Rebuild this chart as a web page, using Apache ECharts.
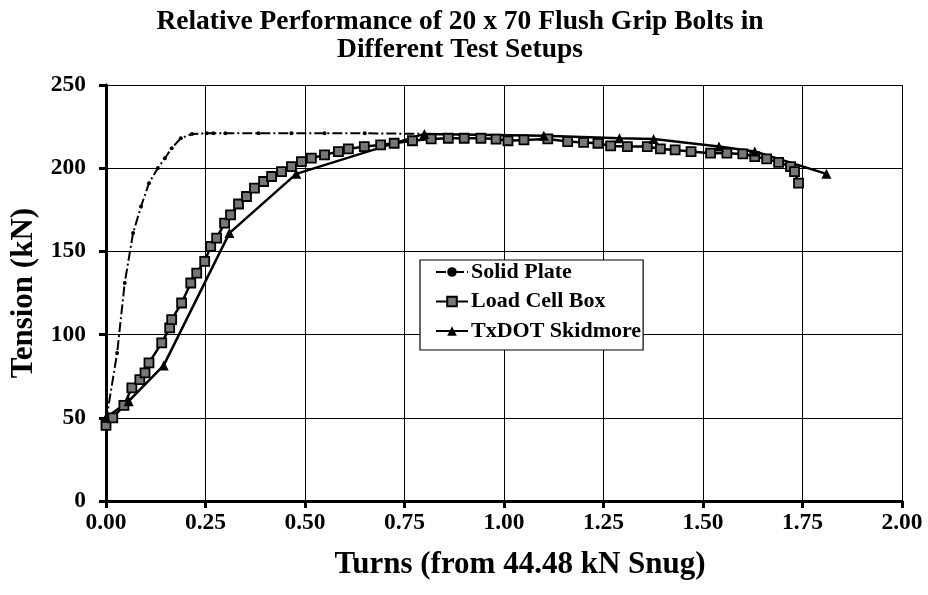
<!DOCTYPE html>
<html>
<head>
<meta charset="utf-8">
<script src="https://cdn.jsdelivr.net/npm/echarts@6/dist/echarts.min.js"></script>
<style>html,body{margin:0;padding:0;background:#fff}#c{width:928px;height:595px}</style>
</head>
<body>
<div id="c"></div>
<script>
const titleLines = ['Relative Performance of 20 x 70 Flush Grip Bolts in', 'Different Test Setups'];
const xTicks = [0, 0.25, 0.5, 0.75, 1.0, 1.25, 1.5, 1.75, 2.0];
const yTicks = [0, 50, 100, 150, 200, 250];
const seriesNames = ['Solid Plate', 'Load Cell Box', 'TxDOT Skidmore'];

const solidPlate = [
  [0, 48], [0.028, 89], [0.047, 131], [0.068, 161], [0.088, 177], [0.108, 191],
  [0.13, 200], [0.148, 206], [0.165, 212], [0.188, 218], [0.216, 220.6], [0.253, 221],
  [0.27, 221], [0.3, 221], [0.383, 221], [0.466, 221], [0.549, 221], [0.65, 221], [0.8, 220.6]
];
const loadCellBox = [
  [0, 45.5], [0.017, 50], [0.045, 57.5], [0.065, 68], [0.085, 73], [0.098, 77], [0.108, 83],
  [0.14, 95], [0.16, 104], [0.165, 109], [0.19, 119], [0.213, 131], [0.228, 137], [0.248, 144],
  [0.263, 153], [0.278, 158], [0.298, 167], [0.313, 172], [0.333, 178.5], [0.353, 183],
  [0.373, 188], [0.396, 192], [0.416, 195], [0.441, 198], [0.466, 201], [0.491, 204],
  [0.516, 206], [0.549, 208], [0.584, 210], [0.609, 211.6], [0.649, 213], [0.69, 214],
  [0.724, 215], [0.77, 216.5], [0.817, 217.6], [0.86, 218], [0.9, 218], [0.942, 218],
  [0.98, 217.5], [1.01, 216.5], [1.05, 217], [1.11, 217.6], [1.16, 216], [1.2, 215.5],
  [1.236, 215], [1.268, 213.4], [1.31, 213], [1.36, 213], [1.393, 211.6], [1.43, 211],
  [1.47, 210], [1.519, 209], [1.56, 209], [1.6, 208.6], [1.63, 207], [1.66, 205.6],
  [1.69, 203.5], [1.72, 201], [1.73, 198], [1.74, 191]
];
const txdotSkidmore = [
  [0, 50], [0.057, 60], [0.145, 81.5], [0.31, 161], [0.478, 196.6], [0.8, 220.6],
  [1.1, 219.5], [1.29, 218], [1.376, 217.6], [1.54, 213], [1.63, 210], [1.81, 196.6]
];

const FONT = '"Liberation Serif", "Times New Roman", serif';
const chart = echarts.init(document.getElementById('c'), null, {renderer: 'canvas'});
chart.setOption({
  animation: false,
  backgroundColor: '#fff',
  title: {
    text: titleLines.join('\n'),
    left: 455, top: 3, textAlign: 'center',
    textStyle: {fontFamily: FONT, fontWeight: 'bold', fontSize: 27.5, color: '#000', lineHeight: 28}
  },
  legend: {
    orient: 'vertical', left: 420, top: 260,
    data: seriesNames,
    backgroundColor: '#fff', borderColor: '#000', borderWidth: 1.2,
    padding: [1, 2, 8, 15], itemGap: 7.5, itemWidth: 32, itemHeight: 12,
    textStyle: {fontFamily: FONT, fontWeight: 'bold', fontSize: 22, color: '#000', padding: [0, 0, 0, -2]}
  },
  grid: {left: 104, right: 26, top: 85, bottom: 94},
  xAxis: {
    type: 'value', min: 0, max: 2, interval: 0.25,
    name: 'Turns (from 44.48 kN Snug)', nameLocation: 'middle', nameGap: 48,
    nameTextStyle: {fontFamily: FONT, fontWeight: 'bold', fontSize: 31, color: '#000', padding: [0, 0, 0, 32]},
    axisLine: {lineStyle: {color: '#000', width: 3}},
    axisTick: {length: 7, lineStyle: {color: '#000', width: 3}},
    axisLabel: {fontFamily: FONT, fontWeight: 'bold', fontSize: 23.5, color: '#000', margin: 10,
      formatter: v => v.toFixed(2)},
    splitLine: {show: true, lineStyle: {color: '#000', width: 1}}
  },
  yAxis: {
    type: 'value', min: 0, max: 250, interval: 50,
    name: 'Tension (kN)', nameLocation: 'middle', nameGap: 67,
    nameTextStyle: {fontFamily: FONT, fontWeight: 'bold', fontSize: 31, color: '#000'},
    axisLine: {lineStyle: {color: '#000', width: 3}},
    axisTick: {length: 7, lineStyle: {color: '#000', width: 3}},
    axisLabel: {fontFamily: FONT, fontWeight: 'bold', fontSize: 23.5, color: '#000', margin: 20},
    splitLine: {show: true, lineStyle: {color: '#000', width: 1}}
  },
  series: [
    {
      name: seriesNames[0], type: 'line', data: solidPlate,
      symbol: 'circle', symbolSize: 4, showSymbol: true,
      itemStyle: {color: '#000'},
      lineStyle: {color: '#000', width: 2, type: [10, 3, 2, 3]}
    },
    {
      name: seriesNames[1], type: 'line', data: loadCellBox,
      symbol: 'rect', symbolSize: 9,
      itemStyle: {color: '#777', borderColor: '#000', borderWidth: 1.8},
      lineStyle: {color: '#000', width: 2.5}
    },
    {
      name: seriesNames[2], type: 'line', data: txdotSkidmore,
      symbol: 'triangle', symbolSize: 10,
      itemStyle: {color: '#000'},
      lineStyle: {color: '#000', width: 2.5}
    }
  ]
});
</script>
</body>
</html>
